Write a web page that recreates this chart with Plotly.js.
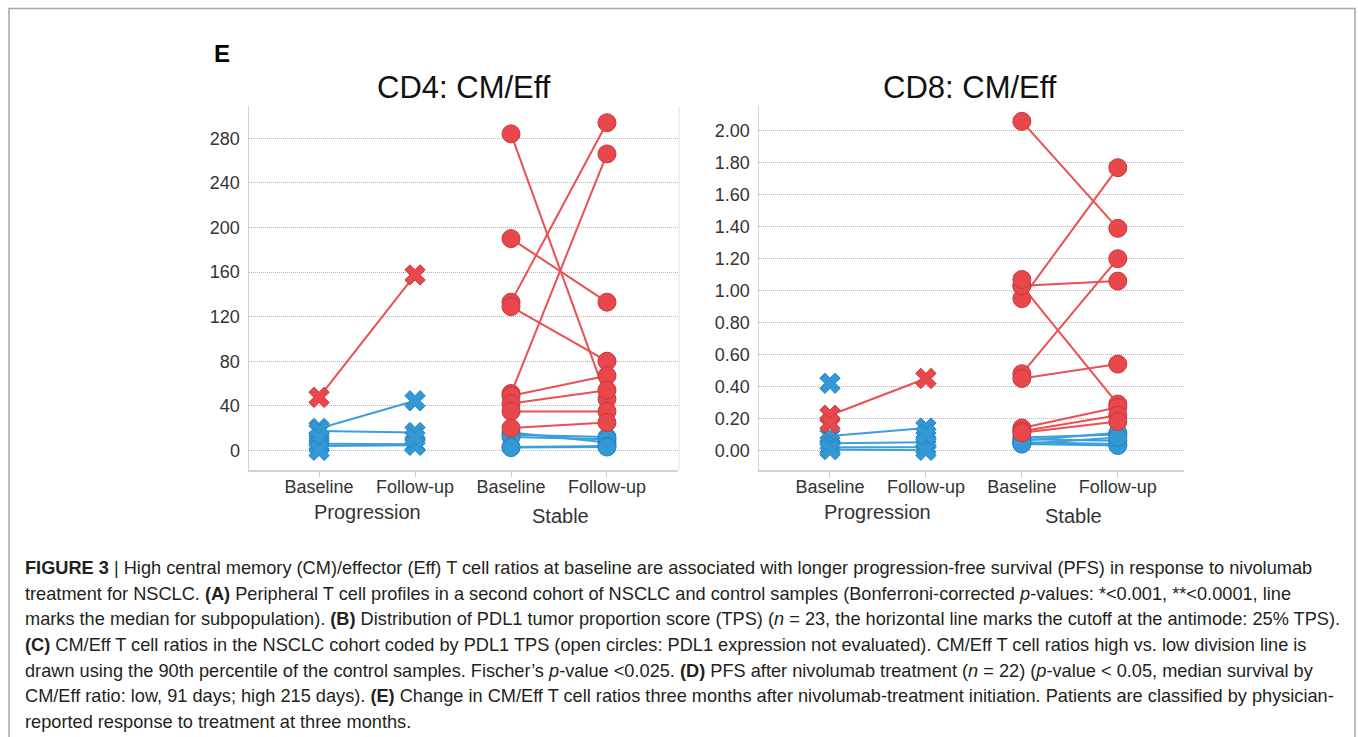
<!DOCTYPE html>
<html>
<head>
<meta charset="utf-8">
<script src="https://cdn.plot.ly/plotly-3.0.1.min.js"></script>
<style>
  html, body { margin: 0; padding: 0; background: #ffffff; }
  #fig { width: 1358px; height: 737px; }
</style>
</head>
<body>
<div id="fig"></div>
<script>
// Category axis labels and group names
const categories = ['Baseline', 'Follow-up', 'Baseline', 'Follow-up'];
const groupLabels = ['Progression', 'Stable'];
const cd4TickVals = [0, 40, 80, 120, 160, 200, 240, 280];
const cd8TickVals = [0, 0.2, 0.4, 0.6, 0.8, 1.0, 1.2, 1.4, 1.6, 1.8, 2.0];

// CD4 CM/Eff ratios, one entry per patient (null = no value at that visit)
const cd4ProgRedBaseline  = [47.6];
const cd4ProgRedFollowup  = [157.4];
const cd4ProgBlueBaseline = [19.7, 17.3, 6.0, 4.0, 11.0, 0.0, null];
const cd4ProgBlueFollowup = [44.5, 16.0, 5.5, 4.5, null, null, 11.0];
const cd4StabRedBaseline  = [284, 190, 133, 129, 51, 49, 42, 35, 20];
const cd4StabRedFollowup  = [46, 133, 294, 80, 266, 67, 54, 35, 25];
const cd4StabBlueBaseline = [16, 14, 12, 3, 2.5];
const cd4StabBlueFollowup = [7, 12, 10, 4, 3];

// CD8 CM/Eff ratios, one entry per patient
const cd8ProgRedBaseline  = [0.22, 0.17];
const cd8ProgRedFollowup  = [0.45, null];
const cd8ProgBlueBaseline = [0.09, 0.045, 0.02, 0.005, 0.42, null];
const cd8ProgBlueFollowup = [0.14, 0.05, 0.02, 0.0, null, 0.10];
const cd8StabRedBaseline  = [2.06, 0.95, 1.03, 1.03, 1.07, 0.48, 0.45, 0.14, 0.12, 0.11];
const cd8StabRedFollowup  = [1.39, 1.77, 1.06, 0.29, null, 1.20, 0.54, 0.27, 0.22, 0.18];
const cd8StabBlueBaseline = [0.08, 0.07, 0.06, 0.05, 0.04, 0.04];
const cd8StabBlueFollowup = [0.10, 0.06, 0.11, 0.04, 0.03, 0.08];

const RED = '#e8474c', RED_EDGE = '#c5393d', RED_LINE = '#ec4f52';
const BLUE = '#3399d6', BLUE_EDGE = '#2a84c0', BLUE_LINE = '#3a9fdc';

const W = 1358, H = 737;
const px = x => x / W;          // pixel -> paper x
const py = y => 1 - y / H;      // pixel -> paper y

const lineTraces = [];
const blueMarks = [];
const redMarks = [];

// One line per patient joining the two visits, plus the markers
function addGroup(base, follow, x0, red, symbol, xa, ya) {
  const lineColor = red ? RED_LINE : BLUE_LINE;
  const mx = [], my = [];
  for (let i = 0; i < base.length; i++) {
    const b = base[i], f = follow[i];
    if (b !== null && f !== null) {
      lineTraces.push({
        type: 'scatter', mode: 'lines', x: [x0, x0 + 1], y: [b, f],
        xaxis: xa, yaxis: ya, hoverinfo: 'skip',
        line: { color: lineColor, width: 2 }
      });
    }
    if (b !== null) { mx.push(x0); my.push(b); }
    if (f !== null) { mx.push(x0 + 1); my.push(f); }
  }
  const t = {
    type: 'scatter', mode: 'markers', x: mx, y: my, xaxis: xa, yaxis: ya,
    marker: {
      symbol: symbol, size: 18,
      color: red ? RED : BLUE,
      line: { color: red ? RED_EDGE : BLUE_EDGE, width: 1 }
    }
  };
  (red ? redMarks : blueMarks).push(t);
}

addGroup(cd4ProgBlueBaseline, cd4ProgBlueFollowup, 0, false, 'x', 'x', 'y');
addGroup(cd4StabBlueBaseline, cd4StabBlueFollowup, 2, false, 'circle', 'x', 'y');
addGroup(cd4ProgRedBaseline, cd4ProgRedFollowup, 0, true, 'x', 'x', 'y');
addGroup(cd4StabRedBaseline, cd4StabRedFollowup, 2, true, 'circle', 'x', 'y');

addGroup(cd8ProgBlueBaseline, cd8ProgBlueFollowup, 0, false, 'x', 'x2', 'y2');
addGroup(cd8StabBlueBaseline, cd8StabBlueFollowup, 2, false, 'circle', 'x2', 'y2');
addGroup(cd8ProgRedBaseline, cd8ProgRedFollowup, 0, true, 'x', 'x2', 'y2');
addGroup(cd8StabRedBaseline, cd8StabRedFollowup, 2, true, 'circle', 'x2', 'y2');

const data = lineTraces.concat(blueMarks, redMarks);

const FONT = 'Liberation Sans, Arial, Helvetica, sans-serif';

function catAxis(domain, range) {
  return {
    domain: domain, range: range, fixedrange: true,
    tickmode: 'array', tickvals: [0, 1, 2, 3], ticktext: categories,
    ticks: 'outside', ticklen: 5, tickwidth: 1, tickcolor: '#c8c8c8',
    ticklabelstandoff: -5,
    showline: true, linecolor: '#d2d2d2', linewidth: 1.5,
    showgrid: false, zeroline: false,
    tickfont: { family: FONT, size: 18, color: '#333333' }
  };
}
function valAxis(anchor, range, tickvals, fmt) {
  return {
    domain: [py(470), py(106)], range: range, anchor: anchor, fixedrange: true,
    tickmode: 'array', tickvals: tickvals,
    ticktext: tickvals.map(v => fmt(v)),
    ticks: '', showline: true, linecolor: '#d2d2d2', linewidth: 1.5,
    showgrid: true, gridcolor: '#b4b4b4', gridwidth: 1, griddash: '1px,1px',
    zeroline: false, ticklabelstandoff: 4,
    tickfont: { family: FONT, size: 18, color: '#333333' }
  };
}

const captionLines = [
  '<b>FIGURE 3</b> | High central memory (CM)/effector (Eff) T cell ratios at baseline are associated with longer progression-free survival (PFS) in response to nivolumab',
  'treatment for NSCLC. <b>(A)</b> Peripheral T cell profiles in a second cohort of NSCLC and control samples (Bonferroni-corrected <i>p</i>-values: *&lt;0.001, **&lt;0.0001, line',
  'marks the median for subpopulation). <b>(B)</b> Distribution of PDL1 tumor proportion score (TPS) (<i>n</i> = 23, the horizontal line marks the cutoff at the antimode: 25% TPS).',
  '<b>(C)</b> CM/Eff T cell ratios in the NSCLC cohort coded by PDL1 TPS (open circles: PDL1 expression not evaluated). CM/Eff T cell ratios high vs. low division line is',
  'drawn using the 90th percentile of the control samples. Fischer\u2019s <i>p</i>-value &lt;0.025. <b>(D)</b> PFS after nivolumab treatment (<i>n</i> = 22) (<i>p</i>-value &lt; 0.05, median survival by',
  'CM/Eff ratio: low, 91 days; high 215 days). <b>(E)</b> Change in CM/Eff T cell ratios three months after nivolumab-treatment initiation. Patients are classified by physician-',
  'reported response to treatment at three months.'
];

const annotations = [
  { text: '<b>E</b>', xref: 'paper', yref: 'paper', x: px(212), y: py(53),
    xanchor: 'left', yanchor: 'middle', showarrow: false,
    font: { family: FONT, size: 24, color: '#000000' } },
  { text: 'CD4: CM/Eff', xref: 'paper', yref: 'paper', x: px(463.5), y: py(87),
    xanchor: 'center', yanchor: 'middle', showarrow: false,
    font: { family: FONT, size: 31, color: '#111111' } },
  { text: 'CD8: CM/Eff', xref: 'paper', yref: 'paper', x: px(970), y: py(87),
    xanchor: 'center', yanchor: 'middle', showarrow: false,
    font: { family: FONT, size: 31, color: '#111111' } },
  { text: groupLabels[0], xref: 'x', yref: 'paper', x: 0.5, y: py(512),
    xanchor: 'center', yanchor: 'middle', showarrow: false,
    font: { family: FONT, size: 20, color: '#333333' } },
  { text: groupLabels[1], xref: 'x', yref: 'paper', x: 2.5, y: py(516), xshift: 2,
    xanchor: 'center', yanchor: 'middle', showarrow: false,
    font: { family: FONT, size: 20, color: '#333333' } },
  { text: groupLabels[0], xref: 'x2', yref: 'paper', x: 0.5, y: py(512),
    xanchor: 'center', yanchor: 'middle', showarrow: false,
    font: { family: FONT, size: 20, color: '#333333' } },
  { text: groupLabels[1], xref: 'x2', yref: 'paper', x: 2.5, y: py(516), xshift: 4,
    xanchor: 'center', yanchor: 'middle', showarrow: false,
    font: { family: FONT, size: 20, color: '#333333' } }
];

captionLines.forEach((t, i) => {
  annotations.push({
    text: t, xref: 'paper', yref: 'paper', x: px(23), y: py(568 + i * 25.67),
    xanchor: 'left', yanchor: 'middle', showarrow: false, align: 'left',
    font: { family: FONT, size: 18.2, color: '#231f20' }
  });
});

const layout = {
  width: W, height: H, autosize: false,
  margin: { l: 0, r: 0, t: 0, b: 0, pad: 0 },
  paper_bgcolor: '#ffffff', plot_bgcolor: '#ffffff',
  showlegend: false, hovermode: false,
  xaxis: Object.assign(catAxis([px(249), px(678)], [-0.73, 3.74]), { anchor: 'y' }),
  yaxis: valAxis('x', [-17.6, 309], cd4TickVals, v => String(v)),
  xaxis2: Object.assign(catAxis([px(759), px(1184)], [-0.74, 3.69]), { anchor: 'y2' }),
  yaxis2: valAxis('x2', [-0.123, 2.156], cd8TickVals, v => v.toFixed(2)),
  annotations: annotations,
  shapes: [
    // figure frame (open at the bottom)
    { type: 'path', xref: 'paper', yref: 'paper',
      path: `M ${px(9)} ${py(760)} L ${px(9)} ${py(8.5)} L ${px(1355)} ${py(8.5)} L ${px(1355)} ${py(760)}`,
      line: { color: '#a6a6a6', width: 1.5 } },
    // divider between the two panes
    { type: 'line', xref: 'paper', yref: 'paper',
      x0: px(679), x1: px(679), y0: py(470), y1: py(106),
      line: { color: '#e2e2e2', width: 1 } }
  ]
};

Plotly.newPlot('fig', data, layout, { displayModeBar: false, staticPlot: true });
</script>
</body>
</html>
